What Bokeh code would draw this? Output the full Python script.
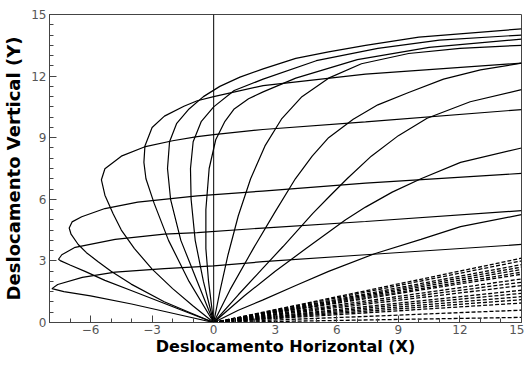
from bokeh.plotting import figure
from bokeh.models import Span, FixedTicker, CustomJSTickFormatter
from bokeh.embed import file_html
from bokeh.resources import INLINE

# ---- data: traced trajectories (X, Y) ----
# loops that swing to the left and then run right
L1_x = [0, -2.0, -4.0, -6.0, -7.3, -7.88, -7.6, -6.4, -4.8, -2.4, 0, 2.4, 7.4, 15]
L1_y = [0, 0.45, 0.9, 1.3, 1.5, 1.65, 1.85, 2.2, 2.45, 2.62, 2.76, 2.96, 3.3, 3.8]
L2_x = [0, -1.61, -4.02, -5.3, -6.27, -7.0, -7.45, -7.56, -7.4, -6.75, -4.8, -2.41, -0.8, 2.38, 7.4, 15]
L2_y = [0, 0.62, 1.56, 2.05, 2.49, 2.8, 3.0, 3.08, 3.3, 3.66, 4.05, 4.3, 4.38, 4.6, 4.92, 5.45]
L3_x = [0, -1.2, -2.41, -4.02, -5.0, -5.63, -6.2, -6.6, -6.95, -7.04, -6.9, -6.43, -5.3, -3.7, -0.8, 2.38, 7.4, 15]
L3_y = [0, 0.5, 1.01, 1.87, 2.5, 2.96, 3.4, 3.8, 4.3, 4.6, 4.9, 5.15, 5.55, 5.86, 6.17, 6.4, 6.79, 7.26]
L4_x = [0, -1.0, -2.0, -3.0, -3.86, -4.5, -4.9, -5.3, -5.47, -5.3, -4.5, -3.38, -2.0, -0.8, 0, 2.4, 7.4, 15]
L4_y = [0, 0.8, 1.65, 2.6, 3.6, 4.5, 5.3, 6.2, 6.95, 7.49, 8.1, 8.55, 8.85, 9.05, 9.15, 9.4, 9.77, 10.37]
L5_x = [0, -1.2, -2.2, -2.9, -3.3, -3.4, -3.35, -3.0, -2.4, -1.45, -0.8, 0, 2.41, 7.4, 15]
L5_y = [0, 2.0, 4.0, 5.8, 7.0, 7.8, 8.6, 9.5, 10.05, 10.53, 10.8, 11.0, 11.54, 12.1, 12.63]
# steep curves that rise past the axis and bend to the right
U2_x = [0, -0.8, -1.6, -2.1, -2.25, -2.15, -1.8, -1.2, -0.5, 0.3, 1.28, 2.41, 4.0, 5.6, 7.4, 10.0, 15]
U2_y = [0, 2.0, 4.0, 6.0, 7.5, 8.8, 9.7, 10.4, 11.0, 11.5, 11.95, 12.35, 12.86, 13.18, 13.5, 13.9, 14.3]
U3_x = [0, -0.5, -0.9, -1.1, -1.13, -1.0, -0.6, 0, 1.0, 2.41, 5.0, 8.0, 11.0, 15]
U3_y = [0, 2.0, 4.0, 6.0, 7.5, 8.8, 9.8, 10.5, 11.3, 11.85, 12.75, 13.35, 13.75, 14.0]
U4_x = [0, -0.25, -0.38, -0.38, -0.22, 0.1, 0.55, 1.0, 1.7, 2.41, 4.0, 7.0, 10.5, 15]
U4_y = [0, 2.0, 3.6, 5.5, 7.5, 8.9, 9.8, 10.4, 10.9, 11.23, 11.9, 12.8, 13.4, 13.8]
B_x = [0, 0.3, 0.7, 1.2, 1.8, 2.5, 3.3, 4.3, 5.6, 7.2, 9.5, 12.0, 15]
B_y = [0, 1.5, 3.3, 5.2, 7.0, 8.6, 9.9, 11.0, 11.9, 12.6, 13.1, 13.35, 13.5]
C_x = [0, 0.8, 1.93, 3.0, 3.98, 4.8, 5.6, 6.8, 8.0, 9.5, 11.2, 13.0, 15]
C_y = [0, 1.6, 3.6, 5.4, 7.0, 8.1, 9.0, 9.9, 10.6, 11.2, 11.85, 12.3, 12.63]
D_x = [0, 1.2, 2.4, 3.38, 4.82, 5.6, 6.5, 7.68, 9.0, 10.4, 12.5, 15]
D_y = [0, 1.35, 2.65, 3.7, 5.3, 6.1, 7.0, 8.1, 9.1, 9.95, 10.75, 11.34]
F_x = [0, 1.5, 3.0, 4.5, 6.43, 7.4, 8.7, 10.1, 12.03, 15]
F_y = [0, 1.3, 2.5, 3.6, 5.0, 5.62, 6.35, 7.0, 7.8, 8.5]
G_x = [0, 1.2, 2.38, 4.0, 5.6, 7.84, 10.1, 12.03, 15]
G_y = [0, 0.6, 1.09, 1.8, 2.49, 3.35, 4.05, 4.67, 5.25]
# fast, nearly straight trajectories close to the ground (end height at X = 15)
fast_end_y = [3.13, 3.0, 2.82, 2.7, 2.58, 2.45, 2.35, 2.12, 1.96, 1.8,
              1.57, 1.42, 1.26, 1.11, 0.95, 0.6, 0.25]
fast_x = [0, 15]

curves = [(L1_x, L1_y), (L2_x, L2_y), (L3_x, L3_y), (L4_x, L4_y), (L5_x, L5_y),
          (U2_x, U2_y), (U3_x, U3_y), (U4_x, U4_y), (B_x, B_y), (C_x, C_y),
          (D_x, D_y), (F_x, F_y), (G_x, G_y)]

p = figure(width=524, height=358, x_range=(-8, 15), y_range=(0, 15),
           output_backend="svg", toolbar_location=None,
           min_border_left=40, min_border_right=3, min_border_top=14, min_border_bottom=20)
p.xgrid.visible = False
p.ygrid.visible = False
p.outline_line_color = "#444444"
p.outline_line_width = 1

for xs, ys in curves:
    p.line(xs, ys, line_color="black", line_width=1.2)
for ye in fast_end_y:
    p.line(fast_x, [0, ye], line_color="black", line_width=1.3, line_dash="4 2")

p.add_layout(Span(location=0, dimension="height", line_color="black", line_width=1))

p.xaxis.ticker = FixedTicker(ticks=[-6, -3, 0, 3, 6, 9, 12, 15],
                             minor_ticks=list(range(-8, 16)))
p.yaxis.ticker = FixedTicker(ticks=[0, 3, 6, 9, 12, 15],
                             minor_ticks=[i * 0.5 for i in range(31)])
fmt = CustomJSTickFormatter(code="return tick < 0 ? '\u2212' + Math.abs(tick) : '' + tick;")
p.xaxis.formatter = fmt
for ax in (p.xaxis, p.yaxis):
    ax.major_tick_in = 7
    ax.major_tick_out = 0
    ax.minor_tick_in = 4
    ax.minor_tick_out = 0
    ax.axis_line_color = "#444444"
    ax.major_tick_line_color = "#444444"
    ax.minor_tick_line_color = "#444444"
    ax.major_label_text_font = "DejaVu Sans"
    ax.major_label_text_font_size = "12px"
    ax.major_label_text_color = "#555555"
    ax.axis_label_text_font = "DejaVu Sans"
    ax.axis_label_text_font_style = "bold"
    ax.axis_label_text_color = "black"
p.xaxis.axis_label = "Deslocamento Horizontal (X)"
p.yaxis.axis_label = "Deslocamento Vertical (Y)"
p.xaxis.axis_label_text_font_size = "16px"
p.yaxis.axis_label_text_font_size = "18px"
p.xaxis.major_label_standoff = 2
p.yaxis.major_label_standoff = 3
p.xaxis.axis_label_standoff = 0
p.yaxis.axis_label_standoff = 4

open("out.html", "w").write(file_html(p, INLINE))
